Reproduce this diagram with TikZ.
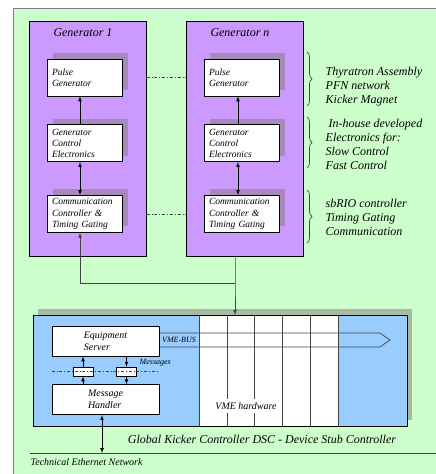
\documentclass[tikz,border=0pt]{standalone}
\usepackage{fontspec}
\setmainfont{Liberation Serif}[ItalicFont={Liberation Serif Italic}]
\usetikzlibrary{positioning}
\usetikzlibrary{shadows}
\usetikzlibrary{decorations.pathreplacing}

\definecolor{bggreen}{HTML}{CCFFCC}
\definecolor{genpurple}{HTML}{CC99FF}
\definecolor{shadepurple}{HTML}{A48BBA}
\definecolor{dscblue}{HTML}{99CCFF}
\definecolor{dscshade}{HTML}{A8BAA4}
\definecolor{wire}{HTML}{444444}

\begin{document}
\begin{tikzpicture}[x=1pt,y=-1pt,>=latex,line width=0.7pt,
	gen/.style={draw=black,
				rectangle,
				fill=genpurple,
				inner sep=0pt,
				minimum width=117pt,
				minimum height=235pt,
				anchor=north west},
	rect/.style={draw=black,
				rectangle,
				fill=white,
				minimum width=75pt,
				minimum height=37pt,
				text width=65pt,
				inner xsep=5pt,
				inner ysep=2pt,
				align=left,
				font=\fontsize{9.5}{11.3}\selectfont\itshape,
				general shadow={fill=shadepurple,shadow xshift=6pt,shadow yshift=6pt}},
	box/.style={draw=black,
				rectangle,
				fill=white,
				minimum width=107pt,
				minimum height=30pt,
				align=left,
				font=\fontsize{10}{12}\selectfont\itshape},
	msg/.style={draw=black, rectangle, fill=white, inner sep=0pt,
				minimum width=20pt, minimum height=9pt},
	note/.style={anchor=west, align=left, font=\fontsize{12}{14}\selectfont\itshape},
	ital/.style={font=\fontsize{#1}{#1}\selectfont\itshape}]
	\useasboundingbox (0,0) rectangle (436,474);
	\draw[fill=bggreen,draw=gray] (13,8) rectangle (440,480);

	\node[gen] (gen1) at (29,21) {};
	\node[gen] (genn) at (186,21) {};
	\node[ital=12] (title1) at (83,33) {Generator 1};
	\node[ital=12] (titlen) at (240,33) {Generator n};

	\node[rect] (pulse1) at (84.5,77.5) {Pulse\\Generator};
	\node[rect,below=28pt of pulse1] (gce1) {Generator\\Control\\Electronics};
	\node[rect,below=33pt of gce1] (comm1) {Communication\\Controller \&\\Timing Gating};
	\node[rect] (pulsen) at (241.5,77.5) {Pulse\\Generator};
	\node[rect,below=28pt of pulsen] (gcen) {Generator\\Control\\Electronics};
	\node[rect,below=33pt of gcen] (commn) {Communication\\Controller \&\\Timing Gating};

	\draw[->] ([xshift=-4.5pt]gce1.north) -- ([xshift=-4.5pt]pulse1.south);
	\draw[<->] ([xshift=-4.5pt]comm1.north) -- ([xshift=-4.5pt]gce1.south);
	\draw[->] ([xshift=-3.5pt]gcen.north) -- ([xshift=-3.5pt]pulsen.south);
	\draw[<->] ([xshift=-3.5pt]commn.north) -- ([xshift=-3.5pt]gcen.south);
	\draw[dash dot,wire] (gen1.east |- pulse1) -- (genn.west |- pulse1);
	\draw[dash dot,wire] (gen1.east |- comm1) -- (genn.west |- comm1);

	\draw[decorate,decoration={brace,amplitude=5pt},wire] (307,52) -- (307,106);
	\draw[decorate,decoration={brace,amplitude=5pt},wire] (307,117) -- (307,168);
	\draw[decorate,decoration={brace,amplitude=5pt},wire] (307,190) -- (307,243);
	\node[note] (thyr) at (322,87) {Thyratron Assembly\\PFN network\\Kicker Magnet};
	\node[note] (inhouse) at (322,144) {\hspace*{3pt}In-house developed\\Electronics for:\\Slow Control\\Fast Control};
	\node[note] (sbrio) at (322,217) {sbRIO controller\\Timing Gating\\Communication};

	\node[draw=black,fill=white,inner sep=0pt,minimum width=374pt,minimum height=111pt,anchor=north west,
		general shadow={fill=dscshade,shadow xshift=5pt,shadow yshift=6pt}] (dsc) at (33,315) {};
	\fill[dscblue] (dsc.north west) rectangle (199,426);
	\fill[dscblue] (338,315) rectangle (dsc.south east);
	\foreach \x in {199,227,254,282,310,338}
		\draw[wire,line width=0.6pt] (\x,315) -- (\x,426);
	\node[ital=10,fill=white,inner sep=3pt] (vmehw) at (246,406) {VME hardware};
	\draw (dsc.north west) rectangle (dsc.south east);

	\node[box] (es) at (105.5,341) {Equipment\\Server};
	\node[box,below=28pt of es] (mh) {Message\\Handler};
	\draw[wire] (es.east |- 0,333) -- (380,333) -- (390,340) -- (380,347) -- (es.east |- 0,347);
	\node[ital=8] (vmebus) at (179,340) {VME-BUS};

	\node[msg] (msgin) at (83,371.5) {};
	\node[msg] (msgout) at (126.5,371.5) {};
	\draw[dash dot,wire] (es.west |- msgin) -- (es.east |- msgin);
	\draw[->] (msgin.south |- mh.north) -- (msgin.south);
	\draw[->] (msgin.north) -- (msgin.north |- es.south);
	\draw[->] (msgout.north |- es.south) -- (msgout.north);
	\draw[->] (msgout.south) -- (msgout.south |- mh.north);
	\node[ital=8,anchor=west] (msglbl) at (136,363) {Messages};

	\coordinate (hub) at (235,283);
	\draw[<-,wire] ([xshift=-4.5pt]comm1.south) |- (hub);
	\draw[->,wire] (genn.south -| hub) -- (hub) -- (hub |- dsc.north);

	\node[ital=12] (dsclbl) at (262,439) {Global Kicker Controller DSC - Device Stub Controller};
	\coordinate (netw) at (30,453);
	\coordinate (nete) at (436,453);
	\draw[wire] (netw) -- (nete);
	\draw[<->] ([xshift=-3.5pt]mh.south) -- ([xshift=-3.5pt]mh.south |- netw);
	\node[ital=10,anchor=west] (netlbl) at (27,462) {Technical Ethernet Network};
\end{tikzpicture}
\end{document}
